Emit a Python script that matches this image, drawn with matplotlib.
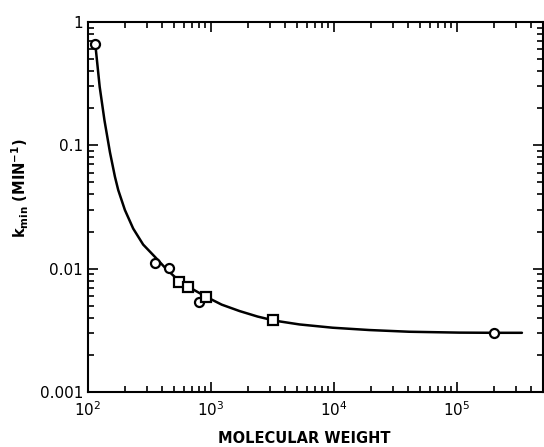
import matplotlib
matplotlib.use("Agg")
import matplotlib.pyplot as plt
from matplotlib.ticker import LogLocator, FixedLocator, FixedFormatter, NullFormatter

# circles (open)
circle_mw = [114.6, 349, 454, 795, 2.0e5]
circle_k = [0.663, 0.0111, 0.0101, 0.00536, 0.00302]

# squares (open)
square_mw = [547, 647, 905, 3220]
square_k = [0.00778, 0.0071, 0.00589, 0.00383]

# fitted curve
curve_mw = [114.6, 124.4, 136.1, 150.8, 165.6, 176.1, 199.5, 233.0, 280.8,
            349.4, 437.3, 547.0, 671.6, 905.7, 1221, 1709, 2392, 3285, 5241,
            9760, 19360, 40830, 1.04e5, 2.0e5, 3.37e5]
curve_k = [0.663, 0.299, 0.1595, 0.0879, 0.0556, 0.0434, 0.0299, 0.02114,
           0.01568, 0.01249, 0.00983, 0.00801, 0.00703, 0.00594, 0.00511,
           0.00453, 0.00409, 0.00379, 0.00353, 0.00332, 0.00318, 0.00308,
           0.00303, 0.00302, 0.00302]

y_ticks = [1, 0.1, 0.01, 0.001]
y_labels = ["1", "0.1", "0.01", "0.001"]

fig = plt.figure(figsize=(5.44, 4.47), dpi=100)
ax = fig.add_axes([88 / 544, 55 / 447, 455 / 544, 370 / 447])

ax.plot(curve_mw, curve_k, color="black", lw=1.8, solid_joinstyle="round",
        solid_capstyle="round", zorder=2)
ax.plot(circle_mw, circle_k, "o", ms=6.5, mfc="white", mec="black", mew=1.6, zorder=3)
ax.plot(square_mw, square_k, "s", ms=6.5, mfc="white", mec="black", mew=1.6, zorder=3)

ax.set_xscale("log")
ax.set_yscale("log")
ax.set_xlim(100, 5e5)
ax.set_ylim(0.001, 1)

ax.xaxis.set_major_locator(LogLocator(base=10, numticks=10))
ax.xaxis.set_minor_locator(LogLocator(base=10, subs=range(2, 10), numticks=20))
ax.xaxis.set_minor_formatter(NullFormatter())
ax.yaxis.set_major_locator(FixedLocator(y_ticks))
ax.yaxis.set_major_formatter(FixedFormatter(y_labels))
ax.yaxis.set_minor_locator(LogLocator(base=10, subs=range(2, 10), numticks=20))
ax.yaxis.set_minor_formatter(NullFormatter())

ax.tick_params(which="both", direction="in", top=True, right=True, width=1.2)
ax.tick_params(which="major", length=7, labelsize=11)
ax.tick_params(which="minor", length=4)
ax.tick_params(axis="x", pad=6)
for s in ax.spines.values():
    s.set_linewidth(1.5)

ax.set_xlabel("MOLECULAR WEIGHT", fontsize=10.5, fontweight="bold")
ax.xaxis.set_label_coords(0.475, -0.105)
ax.set_ylabel(r"$\mathbf{k_{min}}$ (MIN$^{\mathbf{-1}}$)", fontsize=10.5, fontweight="bold")
ax.yaxis.set_label_coords(-0.125, 0.55)

fig.savefig("out.png", dpi=100)
